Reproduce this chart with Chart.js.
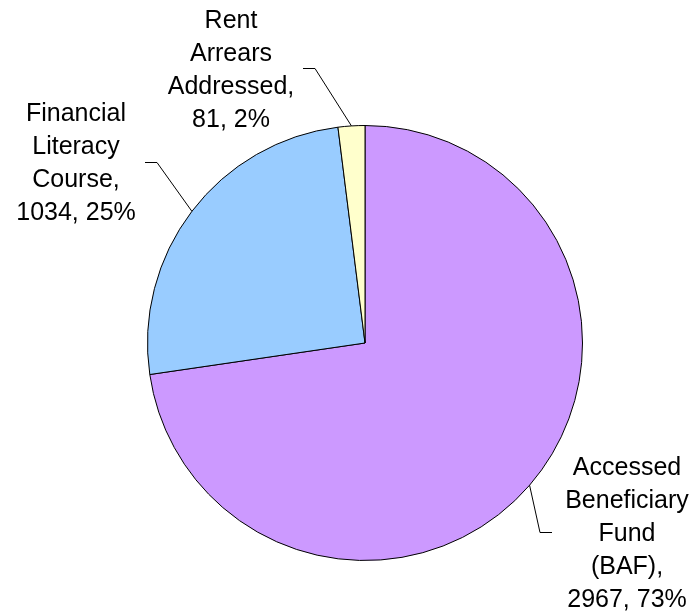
<!DOCTYPE html>
<html>
<head>
<meta charset="utf-8">
<script src="https://cdn.jsdelivr.net/npm/chart.js@4/dist/chart.umd.min.js"></script>
<style>
  html, body { margin: 0; padding: 0; background: #fff; }
  #wrap { width: 693px; height: 613px; position: relative; }
</style>
</head>
<body>
<div id="wrap"><canvas id="pie"></canvas></div>
<script>
// values
const categories = ['Accessed Beneficiary Fund (BAF)', 'Financial Literacy Course', 'Rent Arrears Addressed'];
const counts = [2967, 1034, 81];
const sliceColors = ['#cc99ff', '#99ccff', '#ffffcc'];

// label text block per slice: lines, centre x, first baseline, elbow + tail of leader
const labelLines = [
  ['Accessed', 'Beneficiary', 'Fund', '(BAF),', '2967, 73%'],
  ['Financial', 'Literacy', 'Course,', '1034, 25%'],
  ['Rent', 'Arrears', 'Addressed,', '81, 2%']
];
const labelLayout = [
  { cx: 627, y0: 475, elbow: [540, 532], tail: [552, 532] },
  { cx: 76, y0: 121, elbow: [157, 162], tail: [145, 162] },
  { cx: 231, y0: 28, elbow: [315, 68], tail: [303, 68] }
];

const total = counts.reduce((a, b) => a + b, 0);

const pieLabels = {
  id: 'pieLabels',
  afterDatasetsDraw(chart) {
    const ctx = chart.ctx;
    const arcs = chart.getDatasetMeta(0).data;
    ctx.save();
    ctx.strokeStyle = '#000';
    ctx.lineWidth = 1;
    arcs.forEach((arc, i) => {
      const p = arc.getProps(['x', 'y', 'startAngle', 'endAngle', 'outerRadius'], true);
      const mid = (p.startAngle + p.endAngle) / 2;
      const ex = p.x + Math.cos(mid) * p.outerRadius;
      const ey = p.y + Math.sin(mid) * p.outerRadius;
      const L = labelLayout[i];
      ctx.beginPath();
      ctx.moveTo(ex, ey);
      ctx.lineTo(L.elbow[0], L.elbow[1] + 0.5);
      ctx.lineTo(L.tail[0], L.tail[1] + 0.5);
      ctx.stroke();

      ctx.fillStyle = '#000';
      ctx.font = '25px "Liberation Sans", Arial, sans-serif';
      ctx.textAlign = 'center';
      ctx.textBaseline = 'alphabetic';
      labelLines[i].forEach((t, k) => {
        ctx.fillText(t, L.cx, L.y0 + k * 33);
      });
    });
    ctx.restore();
  }
};

new Chart(document.getElementById('pie'), {
  type: 'pie',
  data: {
    labels: categories,
    datasets: [{
      data: counts,
      backgroundColor: sliceColors,
      borderColor: '#000',
      borderWidth: 1
    }]
  },
  options: {
    responsive: true,
    maintainAspectRatio: false,
    animation: false,
    rotation: 0,
    layout: { padding: { left: 147, right: 110, top: 125, bottom: 52 } },
    plugins: {
      legend: { display: false },
      tooltip: { enabled: false }
    }
  },
  plugins: [pieLabels]
});
</script>
</body>
</html>
